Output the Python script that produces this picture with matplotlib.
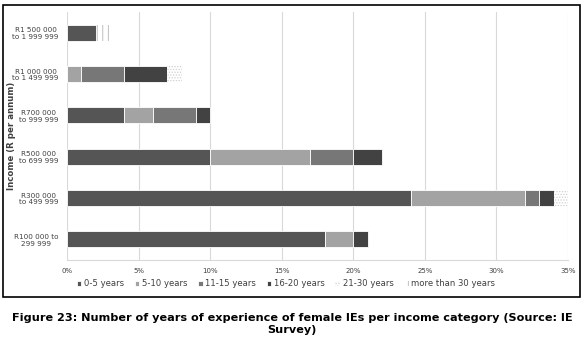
import matplotlib.pyplot as plt
import numpy as np
from matplotlib.patches import Rectangle

# ----------------------------------
# Data (% of female IEs)
# ----------------------------------

income = [
    "R100 000 to\n299 999",
    "R300 000\nto 499 999",
    "R500 000\nto 699 999",
    "R700 000\nto 999 999",
    "R1 000 000\nto 1 499 999",
    "R1 500 000\nto 1 999 999",
]

yrs_0_5 = [18, 24, 10, 4, 0, 2]
yrs_5_10 = [2, 8, 7, 2, 1, 0]
yrs_11_15 = [0, 1, 3, 3, 3, 0]
yrs_16_20 = [1, 1, 2, 1, 3, 0]
yrs_21_30 = [0, 1, 0, 0, 1, 0]
yrs_30_plus = [0, 0, 0, 0, 0, 1]

series_names = ["0-5 years", "5-10 years", "11-15 years",
                "16-20 years", "21-30 years", "more than 30 years"]

xticks = [0, 5, 10, 15, 20, 25, 30, 35]

# ----------------------------------
# Plot
# ----------------------------------

plt.rcParams["hatch.linewidth"] = 0.6

W, H = 584, 346
fig = plt.figure(figsize=(W / 100, H / 100), dpi=100, facecolor="white")

ax = fig.add_axes([67 / W, 1 - 260 / H, (568 - 67) / W, (260 - 12) / H])

styles = [
    dict(color="#555555", edgecolor="white", linewidth=0.6),
    dict(color="#a3a3a3", edgecolor="white", linewidth=0.6),
    dict(color="#777777", edgecolor="white", linewidth=0.6),
    dict(color="#424242", edgecolor="white", linewidth=0.6),
    dict(facecolor="white", edgecolor="#cfcfcf", hatch="......", linewidth=0),
    dict(facecolor="white", edgecolor="#b5b5b5", hatch="|||", linewidth=0),
]

y = np.arange(len(income))
left = np.zeros(len(income))
all_series = [yrs_0_5, yrs_5_10, yrs_11_15, yrs_16_20, yrs_21_30, yrs_30_plus]

for vals, name, st in zip(all_series, series_names, styles):
    ax.barh(y, vals, left=left, height=0.39, label=name, zorder=3, **st)
    left += np.array(vals)

ax.set_xlim(0, 35)
ax.set_ylim(-0.5, len(income) - 0.5)

ax.set_xticks(xticks)
ax.set_xticklabels([f"{t}%" for t in xticks], fontsize=5, color="#404040")
ax.set_yticks(y)
ax.set_yticklabels(income, fontsize=5.2, color="#404040",
                   multialignment="center")
ax.tick_params(length=0, pad=6)

ax.grid(axis="x", color="#d9d9d9", linewidth=0.8, zorder=0)
for s in ["top", "right", "left"]:
    ax.spines[s].set_visible(False)
ax.spines["bottom"].set_color("#d9d9d9")
ax.spines["bottom"].set_linewidth(0.8)

ax.set_ylabel("Income (R per annum)", fontsize=6.2, fontweight="bold",
              color="#404040")
ax.yaxis.set_label_coords((16 - 67) / (568 - 67), 0.5)

# ----------------------------------
# Legend
# ----------------------------------

ax.legend(loc="center", bbox_to_anchor=(286 / W, 1 - 284 / H),
          bbox_transform=fig.transFigure, ncol=6, frameon=False,
          fontsize=6.1, handlelength=0.55, handleheight=0.55,
          handletextpad=0.3, columnspacing=1.25, labelcolor="#404040")

# ----------------------------------
# Border and caption
# ----------------------------------

fig.patches.append(Rectangle((3 / W, 1 - 297 / H), 577 / W, 292 / H,
                             transform=fig.transFigure, fill=False,
                             edgecolor="black", linewidth=1.2))

fig.text(0.5, 1 - 324 / H,
         "Figure 23: Number of years of experience of female IEs per income category (Source: IE\nSurvey)",
         ha="center", va="center", fontsize=8.1, fontweight="bold",
         family="DejaVu Sans", linespacing=1.3)

plt.savefig("out.png", dpi=100)
